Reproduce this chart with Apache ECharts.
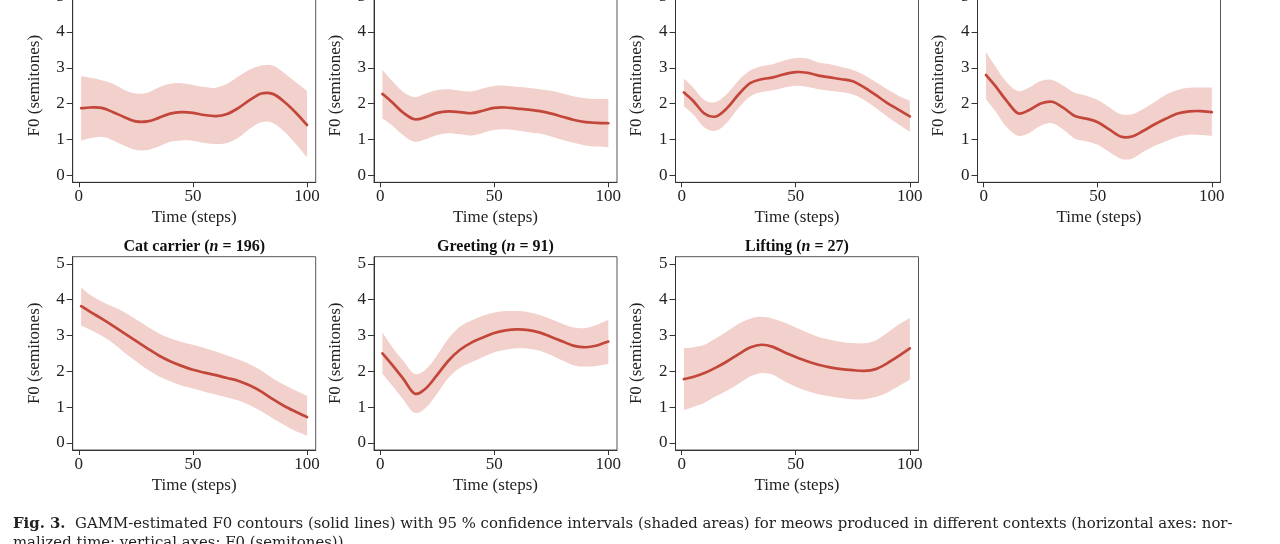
<!DOCTYPE html>
<html>
<head>
<meta charset="utf-8">
<script src="https://cdn.jsdelivr.net/npm/echarts@6/dist/echarts.min.js"></script>
<style>
html,body{margin:0;padding:0;background:#fff;}
#c{width:1280px;height:544px;}
</style>
</head>
<body>
<div id="c"></div>
<script>
// Time steps (x)
const steps = [1,5,10,15,20,25,30,35,40,45,50,55,60,65,70,75,80,85,90,95,100];
const xTicks = [0,50,100];
const yTicks = [0,1,2,3,4,5];

// Panel 1 (top row, 1st)
const p1Mean  = [1.87,1.89,1.88,1.76,1.62,1.50,1.50,1.60,1.72,1.76,1.74,1.68,1.65,1.71,1.88,2.10,2.28,2.27,2.05,1.75,1.40];
const p1Upper = [2.76,2.72,2.65,2.55,2.38,2.28,2.30,2.45,2.55,2.57,2.52,2.46,2.44,2.55,2.76,2.95,3.06,3.06,2.85,2.60,2.35];
const p1Lower = [0.96,1.03,1.07,0.97,0.82,0.70,0.70,0.80,0.93,0.97,0.96,0.90,0.87,0.90,1.05,1.30,1.48,1.46,1.22,0.88,0.50];
// Panel 2
const p2Mean  = [2.27,2.05,1.75,1.56,1.62,1.74,1.78,1.76,1.73,1.80,1.88,1.89,1.86,1.83,1.79,1.72,1.63,1.54,1.48,1.46,1.45];
const p2Upper = [2.94,2.65,2.33,2.18,2.28,2.38,2.40,2.36,2.34,2.42,2.49,2.50,2.47,2.44,2.40,2.36,2.28,2.20,2.15,2.13,2.13];
const p2Lower = [1.58,1.40,1.12,0.93,1.00,1.12,1.17,1.14,1.11,1.18,1.26,1.28,1.25,1.20,1.16,1.08,0.98,0.90,0.83,0.80,0.78];
// Panel 3
const p3Mean  = [2.31,2.08,1.72,1.64,1.88,2.26,2.57,2.68,2.73,2.82,2.88,2.86,2.78,2.73,2.68,2.62,2.45,2.24,2.02,1.83,1.64];
const p3Upper = [2.70,2.45,2.10,2.04,2.28,2.65,2.92,3.04,3.10,3.20,3.27,3.26,3.15,3.10,3.02,2.94,2.80,2.60,2.40,2.22,2.08];
const p3Lower = [1.92,1.70,1.33,1.24,1.48,1.88,2.20,2.32,2.37,2.45,2.50,2.47,2.40,2.36,2.32,2.25,2.10,1.88,1.64,1.42,1.21];
// Panel 4
const p4Mean  = [2.80,2.50,2.08,1.73,1.82,2.00,2.05,1.88,1.65,1.58,1.48,1.28,1.08,1.08,1.24,1.42,1.58,1.72,1.78,1.79,1.76];
const p4Upper = [3.45,3.05,2.60,2.35,2.45,2.63,2.66,2.50,2.30,2.22,2.10,1.90,1.70,1.70,1.85,2.04,2.25,2.38,2.44,2.45,2.45];
const p4Lower = [2.12,1.80,1.35,1.10,1.18,1.38,1.45,1.27,1.02,0.95,0.85,0.65,0.46,0.46,0.65,0.82,0.95,1.07,1.13,1.12,1.09];
// Cat carrier (n = 196)
const catMean  = [3.82,3.66,3.47,3.27,3.06,2.85,2.64,2.44,2.28,2.15,2.04,1.96,1.89,1.81,1.73,1.60,1.43,1.22,1.03,0.87,0.72];
const catUpper = [4.34,4.13,3.95,3.80,3.65,3.45,3.25,3.06,2.92,2.82,2.74,2.65,2.55,2.44,2.33,2.19,2.02,1.80,1.62,1.46,1.31];
const catLower = [3.28,3.16,2.99,2.78,2.52,2.28,2.05,1.86,1.72,1.60,1.52,1.43,1.35,1.27,1.18,1.05,0.88,0.68,0.50,0.33,0.20];
// Greeting (n = 91)
const greetMean  = [2.50,2.20,1.80,1.38,1.52,1.90,2.30,2.60,2.80,2.94,3.07,3.14,3.17,3.15,3.08,2.96,2.83,2.71,2.67,2.72,2.83];
const greetUpper = [3.08,2.70,2.30,1.93,2.05,2.45,2.92,3.25,3.42,3.55,3.64,3.68,3.68,3.65,3.57,3.45,3.32,3.22,3.21,3.30,3.44];
const greetLower = [1.93,1.62,1.22,0.84,0.98,1.38,1.82,2.10,2.25,2.40,2.53,2.60,2.64,2.63,2.57,2.45,2.30,2.16,2.13,2.15,2.20];
// Lifting (n = 27)
const liftMean  = [1.78,1.84,1.95,2.10,2.28,2.48,2.66,2.74,2.68,2.53,2.40,2.28,2.18,2.11,2.06,2.03,2.01,2.06,2.22,2.42,2.64];
const liftUpper = [2.64,2.67,2.74,2.92,3.12,3.33,3.47,3.52,3.47,3.36,3.22,3.08,2.96,2.88,2.82,2.79,2.78,2.86,3.07,3.30,3.49];
const liftLower = [0.92,1.00,1.12,1.30,1.46,1.65,1.85,1.95,1.90,1.72,1.57,1.45,1.36,1.30,1.25,1.22,1.22,1.28,1.40,1.58,1.76];

const titleParts = [null, null, null, null,
  ['Cat carrier (', ' = 196)'], ['Greeting (', ' = 91)'], ['Lifting (', ' = 27)']];
const panelData = [
  [p1Mean,p1Upper,p1Lower],[p2Mean,p2Upper,p2Lower],[p3Mean,p3Upper,p3Lower],[p4Mean,p4Upper,p4Lower],
  [catMean,catUpper,catLower],[greetMean,greetUpper,greetLower],[liftMean,liftUpper,liftLower]
];

// layout
const lefts = [72.7, 374, 675.5, 977.5, 72.7, 374, 675.5];
const tops  = [-11, -11, -11, -11, 256.7, 256.7, 256.7];
const W = 243, H = 193.3;
const FONT = '"Liberation Serif", "Times New Roman", serif';
const LINE = '#c2473a', BAND = '#f2d0cb';

// Catmull-Rom -> cubic bezier path segments through pixel points
function smoothSegs(pts, t) {
  let s = '';
  const n = pts.length;
  for (let i = 0; i < n - 1; i++) {
    const p0 = pts[Math.max(i - 1, 0)], p1 = pts[i], p2 = pts[i + 1], p3 = pts[Math.min(i + 2, n - 1)];
    const c1x = p1[0] + (p2[0] - p0[0]) * t / 3, c1y = p1[1] + (p2[1] - p0[1]) * t / 3;
    const c2x = p2[0] - (p3[0] - p1[0]) * t / 3, c2y = p2[1] - (p3[1] - p1[1]) * t / 3;
    s += ' C' + c1x + ' ' + c1y + ' ' + c2x + ' ' + c2y + ' ' + p2[0] + ' ' + p2[1];
  }
  return s;
}

const grids = [], xAxes = [], yAxes = [], series = [], titles = [];
panelData.forEach((d, i) => {
  grids.push({left: lefts[i], top: tops[i], width: W, height: H, show: true,
    borderColor: '#555', borderWidth: 1, backgroundColor: 'transparent',
    containLabel: false, outerBoundsMode: 'none'});
  xAxes.push({type: 'value', gridIndex: i, min: -2.7, max: 103.8, z: 10,
    name: 'Time (steps)', nameLocation: 'middle', nameGap: 27,
    nameTextStyle: {fontFamily: FONT, fontSize: 17, color: '#222'},
    axisLine: {show: true, onZero: false, lineStyle: {color: '#333', width: 1}},
    axisTick: {show: true, length: 5, customValues: xTicks, lineStyle: {color: '#333'}},
    axisLabel: {customValues: xTicks, margin: 6, fontFamily: FONT, fontSize: 17, color: '#222'},
    splitLine: {show: false}});
  yAxes.push({type: 'value', gridIndex: i, min: -0.2, max: 5.2, z: 10,
    name: 'F0 (semitones)', nameLocation: 'middle', nameGap: 30,
    nameTextStyle: {fontFamily: FONT, fontSize: 17, color: '#222'},
    axisLine: {show: true, onZero: false, lineStyle: {color: '#333', width: 1}},
    axisTick: {show: true, length: 6, customValues: yTicks, lineStyle: {color: '#333'}},
    axisLabel: {customValues: yTicks, margin: 8, fontFamily: FONT, fontSize: 17, color: '#222'},
    splitLine: {show: false}});
  const [mean, up, lo] = d;
  const bandRows = steps.map((s, k) => [s, lo[k], up[k]]);
  const meanRows = steps.map((s, k) => [s, mean[k]]);
  series.push({type: 'custom', xAxisIndex: i, yAxisIndex: i, data: bandRows,
    encode: {x: 0, y: [1, 2]}, silent: true, z: 1, clip: true,
    renderItem: function (params, api) {
      if (params.dataIndex !== 0) return null;
      const upPts = bandRows.map(r => api.coord([r[0], r[2]]));
      const loPts = bandRows.map(r => api.coord([r[0], r[1]])).reverse();
      let p = 'M' + upPts[0][0] + ' ' + upPts[0][1] + smoothSegs(upPts, 0.5);
      p += ' L' + loPts[0][0] + ' ' + loPts[0][1] + smoothSegs(loPts, 0.5) + ' Z';
      return {type: 'path', shape: {pathData: p}, style: {fill: BAND, stroke: null}};
    }});
  series.push({type: 'custom', xAxisIndex: i, yAxisIndex: i, data: meanRows,
    encode: {x: 0, y: 1}, z: 3, clip: true,
    renderItem: function (params, api) {
      if (params.dataIndex !== 0) return null;
      const pts = meanRows.map(r => api.coord([r[0], r[1]]));
      const p = 'M' + pts[0][0] + ' ' + pts[0][1] + smoothSegs(pts, 0.5);
      return {type: 'path', shape: {pathData: p},
        style: {fill: null, stroke: LINE, lineWidth: 2.7, lineJoin: 'round', lineCap: 'round'}};
    }});
  if (titleParts[i]) {
    titles.push({text: '{b|' + titleParts[i][0] + '}{i|n}{b|' + titleParts[i][1] + '}',
      left: lefts[i] + W / 2, top: 239, textAlign: 'center', padding: 0,
      textStyle: {rich: {
        b: {fontFamily: FONT, fontSize: 16, fontWeight: 'bold', color: '#111'},
        i: {fontFamily: FONT, fontSize: 16, fontWeight: 'bold', fontStyle: 'italic', color: '#111'}
      }}});
  }
});

const CAP = '"DejaVu Serif", serif';
const chart = echarts.init(document.getElementById('c'), null, {renderer: 'canvas'});
chart.setOption({
  backgroundColor: '#fff',
  animation: false,
  title: titles,
  grid: grids, xAxis: xAxes, yAxis: yAxes, series: series,
  graphic: [
    {type: 'text', left: 13, top: 517, style: {
      text: '{b|Fig. 3.}{r|  GAMM-estimated F0 contours (solid lines) with 95 % confidence intervals (shaded areas) for meows produced in different contexts (horizontal axes: nor-}',
      rich: {b: {fontFamily: CAP, fontSize: 14.9, fontWeight: 'bold', fill: '#222'},
             r: {fontFamily: CAP, fontSize: 14.9, fill: '#222'}}}},
    {type: 'text', left: 13, top: 536, style: {
      text: 'malized time; vertical axes: F0 (semitones)).',
      fontFamily: CAP, fontSize: 14.9, fill: '#222'}}
  ]
});
</script>
</body>
</html>
